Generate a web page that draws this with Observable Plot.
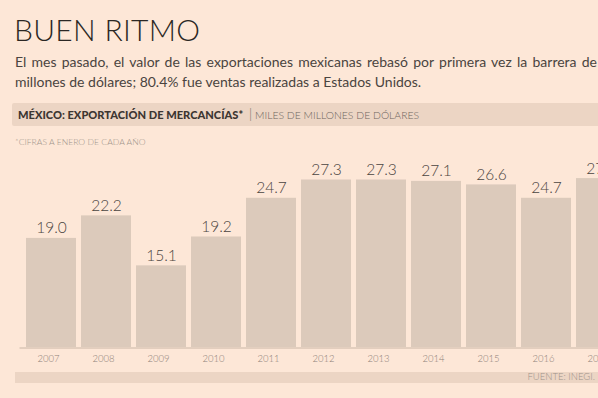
<!DOCTYPE html>
<html>
<head>
<meta charset="utf-8">
<script src="https://cdn.jsdelivr.net/npm/d3@7"></script>
<script src="https://cdn.jsdelivr.net/npm/@observablehq/plot@0.6"></script>
<style>
  html, body { margin: 0; padding: 0; }
  body { width: 598px; height: 398px; overflow: hidden; background: #fde7d7; font-family: Lato, "Open Sans", sans-serif; position: relative; }
  .abs { position: absolute; white-space: nowrap; }
  #title { left: 14px; top: 11px; font-size: 30px; font-weight: 300; color: #2b2724; letter-spacing: 0.3px; }
  #sub1 { left: 15px; top: 52px; width: 582px; font-size: 14px; line-height: 19.5px; color: #4a4440; white-space: normal; text-align: justify; text-align-last: justify; }
  #sub2 { left: 15px; top: 71.5px; font-size: 14px; line-height: 19.5px; color: #4a4440; }
  #hdr { left: 12px; top: 103px; width: 586px; height: 23px; background: #ecd5c4; border-radius: 2px 0 0 2px; }
  #hdr span.b { position: absolute; left: 6px; top: 5px; font-size: 11.1px; font-weight: 900; color: #3d3632; white-space: nowrap; }
  #hdr span.s { position: absolute; left: 237px; top: 3px; font-size: 13px; font-weight: 300; color: #6e655e; }
  #hdr span.l { position: absolute; left: 243px; top: 5.5px; font-size: 10.4px; font-weight: 300; color: #6e655e; white-space: nowrap; }
  #note { left: 15px; top: 137px; font-size: 8.6px; color: #a0948a; font-weight: 300; }
  #chart { left: 0; top: 150px; width: 598px; height: 222px; overflow: hidden; }
  #foot { left: 15px; top: 372px; width: 583px; height: 11px; background: #ecd5c4; }
  #foot span { position: absolute; right: 3px; top: -1px; font-size: 9.5px; color: #9d9189; font-weight: 300; white-space: nowrap; }
</style>
</head>
<body>
<div class="abs" id="title">BUEN RITMO</div>
<div class="abs" id="sub1">El mes pasado, el valor de las exportaciones mexicanas rebasó por primera vez la barrera de</div>
<div class="abs" id="sub2">millones de dólares; 80.4% fue ventas realizadas a Estados Unidos.</div>
<div class="abs" id="hdr"><span class="b">MÉXICO: EXPORTACIÓN DE MERCANCÍAS*</span><span class="s">|</span><span class="l">MILES DE MILLONES DE DÓLARES</span></div>
<div class="abs" id="note">*CIFRAS A ENERO DE CADA AÑO</div>
<div class="abs" id="chart"></div>
<div class="abs" id="foot"><span>FUENTE: INEGI.</span></div>
<script>
const years = ["2007","2008","2009","2010","2011","2012","2013","2014","2015","2016","2017"];
const values = [19.0, 22.2, 15.1, 19.2, 24.7, 27.3, 27.3, 27.1, 26.6, 24.7, 27.5];
const labels = ["19.0","22.2","15.1","19.2","24.7","27.3","27.3","27.1","26.6","24.7","27.5"];
const yBase = 3.5;

const data = years.map((y, i) => ({year: y, value: values[i], label: labels[i]}));

const plot = Plot.plot({
  width: 640,
  height: 222,
  marginLeft: 19.5,
  marginRight: 8,
  marginTop: 14,
  marginBottom: 25,
  style: {background: "transparent", maxWidth: "none", fontFamily: "Lato, 'Open Sans', sans-serif"},
  x: {domain: years, padding: 0.1, label: null, axis: null},
  y: {domain: [yBase, 29.5], axis: null},
  marks: [
    Plot.barY(data, {x: "year", y1: yBase, y2: "value", fill: "#dccabb"}),
    Plot.ruleY([yBase], {stroke: "#c9b6a6", strokeWidth: 1, dy: 0.5}),
    Plot.text(data, {x: "year", y: "value", text: "label", lineAnchor: "bottom", dy: -5, fontSize: 15.5, fontWeight: 300, fill: "#4a4440"}),
    Plot.axisX({tickSize: 0, tickPadding: 8, dx: -3, fontSize: 9.5, fill: "#8d8178", fontWeight: 300})
  ]
});
document.getElementById("chart").appendChild(plot);
</script>
</body>
</html>
